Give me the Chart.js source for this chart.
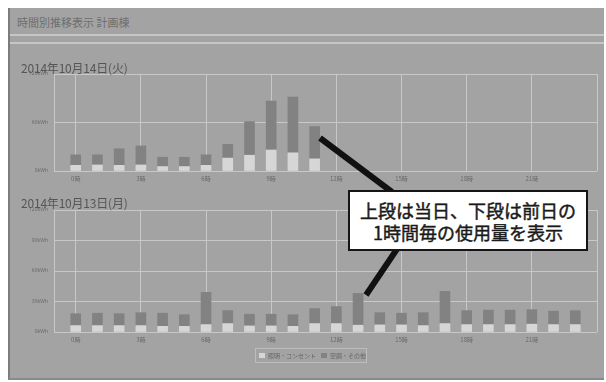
<!DOCTYPE html>
<html><head><meta charset="utf-8">
<script src="https://cdn.jsdelivr.net/npm/chart.js@4/dist/chart.umd.min.js"></script>
<style>
html,body{margin:0;padding:0;background:#fff;width:606px;height:382px;overflow:hidden;font-family:"Noto Sans CJK JP","Noto Sans",sans-serif;}
.abs{position:absolute;}
#panel{left:8px;top:8px;width:596px;height:372px;background:#a3a3a3;border-left:2px solid #7c7c7c;border-bottom:2px solid #8a8a8a;box-sizing:border-box;}
.hline{left:10px;width:594px;height:2px;background:#c6c6c6;}
#head{left:17px;top:14px;font-size:11px;color:#6e6e6e;white-space:nowrap;}
.date{left:21px;font-size:12px;color:#555;white-space:nowrap;letter-spacing:-0.2px;}
#legend{left:255px;top:348px;width:112px;height:15px;border:1px solid #bdbdbd;box-sizing:border-box;font-size:6px;color:#666;display:flex;align-items:center;white-space:nowrap;padding-left:3px;}
.sw{display:inline-block;width:7px;height:5px;margin-right:3px;}
#callout{left:348px;top:190px;width:240px;height:61px;background:#fff;border:2px solid #151515;box-sizing:border-box;font-size:18px;line-height:22px;color:#1a1a1a;-webkit-text-stroke:0.45px #1a1a1a;text-align:center;padding-top:7px;white-space:nowrap;}
</style></head>
<body>
<div id="panel" class="abs"></div>
<div class="abs hline" style="top:34px"></div>
<div class="abs hline" style="top:42px"></div>
<div id="head" class="abs">時間別推移表示 計画棟</div>
<div class="abs" style="left:0;top:60px;width:606px;height:130px"><canvas id="c1" width="606" height="130"></canvas></div>
<div class="abs" style="left:0;top:196px;width:606px;height:155px"><canvas id="c2" width="606" height="155"></canvas></div>
<div class="abs date" style="top:59px">2014年10月14日(火)</div>
<div class="abs date" style="top:194px">2014年10月13日(月)</div>
<div id="legend" class="abs"><span class="sw" style="background:#d6d6d6"></span><span style="margin-right:5px">照明・コンセント</span><span class="sw" style="background:#828282"></span><span>空調・その他</span></div>
<svg class="abs" style="left:0;top:0" width="606" height="382">
<line x1="320" y1="138" x2="392" y2="192" stroke="#111" stroke-width="6"/>
<line x1="366" y1="295" x2="397" y2="249" stroke="#111" stroke-width="6"/>
</svg>
<div id="callout" class="abs">上段は当日、下段は前日の<br>1時間毎の使用量を表示</div>
<script>
const hours = [0,1,2,3,4,5,6,7,8,9,10,11,12,13,14,15,16,17,18,19,20,21,22,23];
const hourTicks = [0,3,6,9,12,15,18,21];
const seriesNames = ["照明・コンセント","空調・その他"];
// 2014/10/14 (today, up to 11時)
const todayLighting = [7,7.5,7,7.5,5.5,5.5,7,16,19.5,26,22.5,15];
const todayHvac     = [13,12.5,20.5,23.5,11.5,11.5,13,17,41.5,60.5,69,40];
// 2014/10/13 (previous day)
const prevLighting = [6.3,6.3,6.3,6.3,5.6,5.6,7.3,8.3,6,6,5.6,8.3,8.3,6.7,7,7,6.3,8.3,7.3,7.3,7.3,7.7,7.3,7.3];
const prevHvac     = [11.7,12.2,11.7,12.7,12.9,11.4,31.7,12.7,11.5,11.5,11.4,14.7,16.7,31.3,12,11.5,12.7,31.7,13.7,14.2,14.2,14.3,13.2,13.7];
const yTicksTop = [0,60,120];
const yTicksBottom = [0,30,60,90,120];

function makeChart(id, lighting, hvac, yTicks){
  const pts = arr => arr.map((v,i)=>({x:hours[i], y:v}));
  return new Chart(document.getElementById(id), {
    type:'bar',
    data:{datasets:[
      {label:seriesNames[0], data:pts(lighting), backgroundColor:'#d6d6d6', barThickness:10},
      {label:seriesNames[1], data:pts(hvac), backgroundColor:'#828282', barThickness:10}
    ]},
    options:{
      responsive:false, animation:false,
      layout:{padding:{top:14,right:9,left:0,bottom:0}},
      plugins:{legend:{display:false}, tooltip:{enabled:false}},
      scales:{
        x:{type:'linear', min:-1, max:24, stacked:true, offset:false,
          afterBuildTicks:s=>{s.ticks=[-1].concat(hourTicks,[24]).map(v=>({value:v}));},
          afterFit:s=>{s.height=19;},
          grid:{color:'#c8c8c8', drawTicks:false, lineWidth:1, offset:false},
          border:{display:false},
          ticks:{padding:4, font:{size:6, family:'"Noto Sans CJK JP"'}, color:'#6a6a6a', autoSkip:false, maxRotation:0,
            callback:v=> (v>=0 && v<24) ? v+'時' : ''}
        },
        y:{min:0, max:120, stacked:true,
          afterBuildTicks:s=>{s.ticks=yTicks.map(v=>({value:v}));},
          afterFit:s=>{s.width=54;},
          grid:{color:'#c8c8c8', drawTicks:false, lineWidth:1},
          border:{display:false},
          ticks:{padding:6, font:{size:5, family:'"Noto Sans"'}, color:'#6a6a6a', callback:v=>v+'kWh'}
        }
      }
    }
  });
}
makeChart('c1', todayLighting, todayHvac, yTicksTop);
makeChart('c2', prevLighting, prevHvac, yTicksBottom);
</script>
</body></html>
